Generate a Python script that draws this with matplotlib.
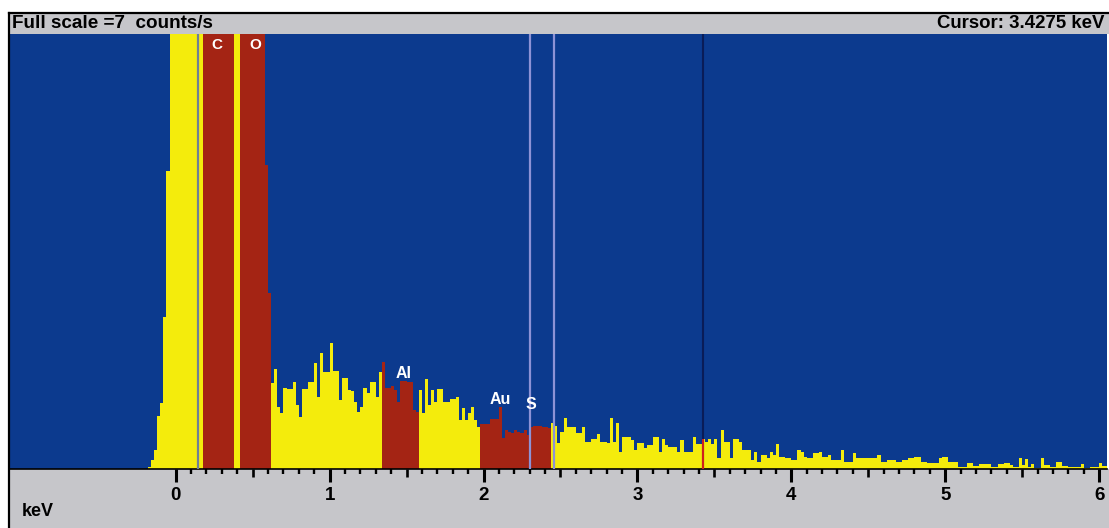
import matplotlib
matplotlib.use("Agg")
import matplotlib.pyplot as plt
from matplotlib.patches import Rectangle
from matplotlib.ticker import FixedLocator, NullFormatter
import numpy as np

# ---------------- data ----------------
bin_start_kev = -0.18
bin_width_kev = 0.02

# counts/s per 0.02 keV channel (values above full scale are clipped in the display)
counts_noise_C_O = [0.04, 0.15, 0.30, 0.85, 1.06, 2.45, 4.8, 9, 12,          # -0.18 .. -0.02
                    12, 12, 12, 12, 12, 12, 12, 12, 10,                      # 0.00 .. 0.16
                    10, 10, 10, 10, 10, 10, 10, 10, 10, 10,                  # 0.18 .. 0.36 (C)
                    10, 10,                                                  # 0.38 .. 0.40
                    10, 10, 10, 10, 10, 10, 10, 10, 4.9, 2.84]               # 0.42 .. 0.60 (O)
counts_0p62_1p96 = [1.39, 1.61, 1.0, 0.9, 1.3, 1.28, 1.28, 1.4, 1.03, 0.84,
                    1.28, 1.28, 1.4, 1.4, 1.71, 1.16, 1.87, 1.56, 1.56, 2.02,
                    1.58, 1.58, 1.11, 1.47, 1.47, 1.27, 1.25, 1.08, 0.92, 1.0,
                    1.3, 1.22, 1.4, 1.4, 1.16, 1.56,
                    1.72, 1.3, 1.3, 1.34, 1.27, 1.08, 1.42, 1.42, 1.4, 1.4, 0.95, 0.92,
                    1.27, 0.9, 1.45, 1.03, 1.27, 1.08, 1.28, 1.28, 1.08, 1.08,
                    1.13, 1.13, 1.16, 0.79, 0.98, 0.79, 0.9, 1.0, 0.79, 0.68]
counts_1p98_4p04 = [0.73, 0.73, 0.73, 0.81, 0.81, 0.81, 0.99, 0.5, 0.63, 0.6,
                    0.58, 0.62, 0.6, 0.58, 0.62, 0.55, 0.68, 0.7, 0.7, 0.7,
                    0.68, 0.68, 0.66,
                    0.74, 0.7, 0.42, 0.6, 0.82, 0.68, 0.68, 0.68, 0.58, 0.58,
                    0.68, 0.44, 0.44, 0.48, 0.48, 0.56, 0.44, 0.44, 0.42, 0.82,
                    0.44, 0.74, 0.27, 0.52, 0.52, 0.52, 0.47, 0.31, 0.42, 0.42,
                    0.33, 0.39, 0.39, 0.52, 0.52, 0.27, 0.49, 0.39, 0.36, 0.36,
                    0.36, 0.28, 0.47, 0.28, 0.28, 0.28, 0.52, 0.41, 0.41, 0.49,
                    0.44, 0.49, 0.41, 0.49, 0.17, 0.63, 0.44, 0.44, 0.17, 0.49,
                    0.49, 0.44, 0.31, 0.31, 0.31, 0.145, 0.28, 0.12, 0.23, 0.23,
                    0.17, 0.28, 0.23, 0.41, 0.2, 0.2, 0.17, 0.17, 0.15, 0.15,
                    0.31]
counts_4p06_6p04 = [0.28, 0.2, 0.17, 0.17, 0.25, 0.25, 0.28, 0.2, 0.2, 0.23,
                    0.145, 0.145, 0.15, 0.31, 0.12, 0.12, 0.12, 0.25, 0.17, 0.17,
                    0.17, 0.17, 0.17, 0.17, 0.17, 0.226, 0.12, 0.12, 0.145, 0.145,
                    0.145, 0.12, 0.12, 0.145, 0.145, 0.17, 0.17, 0.2, 0.2, 0.12,
                    0.12, 0.09, 0.09, 0.09, 0.09, 0.17, 0.2, 0.2, 0.12, 0.12,
                    0.12, 0.04, 0.04, 0.04, 0.09, 0.09, 0.05, 0.05, 0.08, 0.08,
                    0.08, 0.08, 0.04, 0.04, 0.08, 0.08, 0.09, 0.09, 0.065, 0.04,
                    0.04, 0.17, 0.065, 0.156, 0.04, 0.08, 0.011, 0.011, 0.17, 0.065,
                    0.065, 0.04, 0.04, 0.12, 0.12, 0.05, 0.05, 0.027, 0.027, 0.04,
                    0.04, 0.08, 0.022, 0.022, 0.027, 0.027, 0.027, 0.09, 0.05, 0.05]

element_windows = [(0.18, 0.38), (0.42, 0.62), (1.34, 1.58), (1.98, 2.44)]
element_labels = ["C", "O", "Al", "Au", "S"]
element_label_kev = [0.27, 0.52, 1.48, 2.11, 2.31]
element_label_counts = [6.82, 6.82, 1.54, 1.12, 1.03]
marker_lines_kev = [0.148, 2.30, 2.455]
cursor_kev = 3.4275
full_scale = 7
x_ticks = [0, 1, 2, 3, 4, 5, 6]

# ---------------- figure ----------------
W, H = 1109, 528
fig = plt.figure(figsize=(W / 100, H / 100), dpi=100, facecolor="white")

def fx(px):
    return px / W

def fy(py):
    return 1 - py / H

BLUE = "#0c3a8e"
YELLOW = "#f4ec0c"
RED = "#a42414"
GRAY = "#c6c6ca"

# header and footer panels
fig.add_artist(Rectangle((fx(9), fy(34)), fx(1100), 21 / H, transform=fig.transFigure,
                         facecolor=GRAY, edgecolor="none", zorder=0))
fig.add_artist(Rectangle((fx(9), 0), fx(1100), fy(469), transform=fig.transFigure,
                         facecolor=GRAY, edgecolor="none", zorder=0))
fig.add_artist(plt.Line2D([fx(9), 1], [fy(13), fy(13)], transform=fig.transFigure,
                          color="black", lw=1.6))
fig.add_artist(plt.Line2D([fx(9), fx(9)], [0, fy(13)], transform=fig.transFigure,
                          color="black", lw=1.6))

fig.text(fx(12), fy(24), "Full scale =%d  counts/s" % full_scale, fontsize=13.6,
         fontweight="bold", family="Liberation Sans", va="center", ha="left")
fig.text(fx(1104), fy(24), "Cursor: %.4f keV" % cursor_kev, fontsize=13.4,
         fontweight="bold", family="Liberation Sans", va="center", ha="right")
fig.text(fx(22), fy(512), "keV", fontsize=13, fontweight="bold",
         family="Liberation Sans", va="center", ha="left")

# spectrum axes
ax = fig.add_axes([fx(10), fy(469), fx(1097), (469 - 34) / H])
ax.set_facecolor(BLUE)
kev_left = (10 - 175.7) / 153.9
kev_right = (1107 - 175.7) / 153.9
ax.set_xlim(kev_left, kev_right)
ax.set_ylim(0, full_scale)

counts = np.array(counts_noise_C_O + counts_0p62_1p96 + counts_1p98_4p04 + counts_4p06_6p04)
edges = bin_start_kev + bin_width_kev * np.arange(len(counts))
centers = edges + bin_width_kev / 2

colors = []
for c in centers:
    inside = any(lo <= c < hi for lo, hi in element_windows)
    colors.append(RED if inside else YELLOW)

ax.bar(edges, counts, width=bin_width_kev, align="edge", color=colors,
       linewidth=0, antialiased=False, zorder=2)

# marker lines
ax.axvline(marker_lines_kev[0], color="#6f7f96", lw=1.6, zorder=3)
for m in marker_lines_kev[1:]:
    ax.axvline(m, color="#8d92d6", lw=1.6, zorder=3)

# cursor
ax.axvline(cursor_kev, color="#0a1c58", lw=1.5, zorder=3)
idx = int((cursor_kev - bin_start_kev) // bin_width_kev)
ax.vlines(cursor_kev, 0, counts[idx], color="#d0201c", lw=1.5, zorder=4)

# element labels
for lab, xk, yc in zip(element_labels, element_label_kev, element_label_counts):
    size = 11 if lab in ("C", "O") else 11.5
    ax.text(xk, yc, lab, color="white", fontsize=size, fontweight="bold",
            family="Liberation Sans", ha="center", va="center", zorder=5)

for s in ["top", "left", "right"]:
    ax.spines[s].set_visible(False)
ax.spines["bottom"].set_color("black")
ax.spines["bottom"].set_linewidth(1.2)
ax.set_yticks([])

ax.xaxis.set_major_locator(FixedLocator(x_ticks))
minor = [round(v, 1) for v in np.arange(0, 6.05, 0.1) if abs(v * 2 - round(v * 2)) > 1e-6]
ax.xaxis.set_minor_locator(FixedLocator(minor))
ax.xaxis.set_minor_formatter(NullFormatter())
ax.set_xticklabels([str(t) for t in x_ticks], fontsize=13.5, fontweight="bold",
                   family="Liberation Sans")
ax.tick_params(axis="x", which="major", direction="out", length=9, width=2.2, pad=4,
               color="black")
ax.tick_params(axis="x", which="minor", direction="out", length=3.6, width=1.7,
               color="black")

sec = ax.secondary_xaxis("bottom")
sec.xaxis.set_major_locator(FixedLocator([h + 0.5 for h in range(6)]))
sec.xaxis.set_major_formatter(NullFormatter())
sec.tick_params(axis="x", which="major", direction="out", length=6, width=1.9, color="black")
sec.spines["bottom"].set_visible(False)

fig.savefig("out.png", dpi=100, facecolor="white")
